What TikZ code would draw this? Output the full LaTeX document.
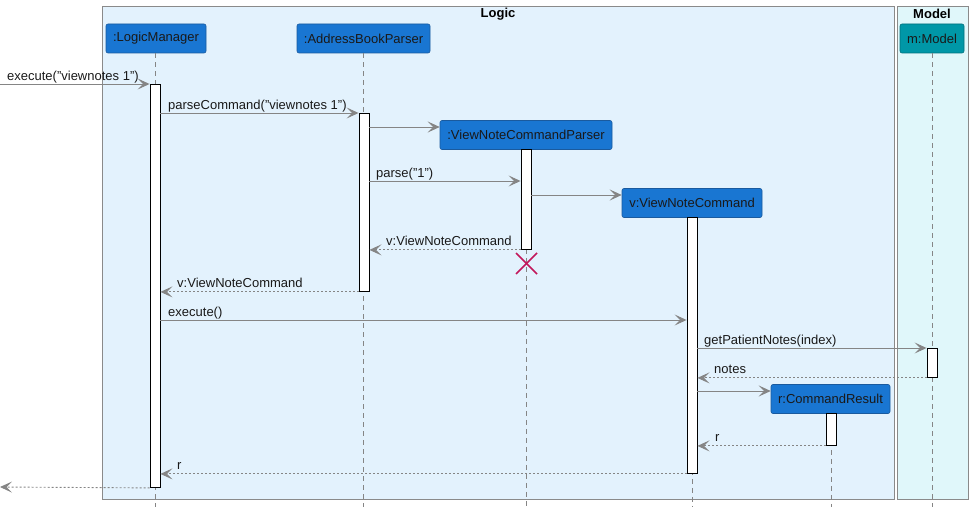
\documentclass[tikz,border=0pt]{standalone}
\usepackage{fontspec}
\setmainfont{Liberation Sans}
\usetikzlibrary{arrows.meta}
\definecolor{objblue}{HTML}{1976D2}
\definecolor{objedge}{HTML}{1A5A9E}
\definecolor{modelteal}{HTML}{0097A7}
\definecolor{modeledge}{HTML}{00707C}
\definecolor{logicbg}{HTML}{E3F2FD}
\definecolor{modelbg}{HTML}{E0F7FA}
\definecolor{grpline}{HTML}{8A8A8A}
\definecolor{msgline}{HTML}{858585}
\definecolor{killred}{HTML}{C2185B}
\begin{document}
\begin{tikzpicture}[x=1pt,y=-1pt,
  font=\fontsize{13pt}{15pt}\selectfont,
  grp/.style={draw=grpline, line width=0.9pt, anchor=north west, inner sep=0pt},
  grptitle/.style={font=\fontsize{13pt}{15pt}\selectfont\bfseries, inner sep=0pt},
  part/.style={draw=objedge, fill=objblue, rounded corners=2pt, minimum height=29pt, inner sep=0pt, text=black!90, line width=0.6pt},
  lifeline/.style={draw=msgline, dash pattern=on 5pt off 4pt, line width=0.8pt},
  actbox/.style={draw=black, fill=white, line width=0.9pt, minimum width=10pt, inner sep=0pt, anchor=north},
  msg/.style={draw=msgline, line width=0.9pt, -{Stealth[length=12pt,width=11pt,inset=5.5pt]}},
  ret/.style={msg, dash pattern=on 2pt off 2pt},
  lbl/.style={anchor=base west, inner sep=0pt, text=black!90},
  kill/.style={draw=killred, line width=1.6pt}
]
\useasboundingbox (0,0) rectangle (973,511);
% groups
\node[grp, fill=logicbg, minimum width=792pt, minimum height=493pt] (logic) at (102,6) {};
\node[grp, fill=modelbg, minimum width=71pt, minimum height=493pt] (model) at (897,6) {};
\node[grptitle] (logict) at (498,14) {Logic};
\node[grptitle] (modelt) at (932,14) {Model};
% participants
\node[part, minimum width=100pt] (lm) at (156,38.5) {:LogicManager};
\node[part, minimum width=133pt] (abp) at (363.5,38.5) {:AddressBookParser};
\node[part, minimum width=172pt] (vncp) at (526,135) {:ViewNoteCommandParser};
\node[part, minimum width=140pt] (vnc) at (692,203) {v:ViewNoteCommand};
\node[part, minimum width=119pt] (cr) at (830.5,399) {r:CommandResult};
\node[part, fill=modelteal, draw=modeledge, minimum width=64pt] (mm) at (932,38.5) {m:Model};
% lifeline ends
\coordinate (lmE) at (155,507);
\coordinate (abpE) at (363,507);
\coordinate (vncpE) at (526,507);
\coordinate (vncE) at (692,507);
\coordinate (crE) at (831,507);
\coordinate (mmE) at (932,507);
\draw[lifeline] (lm.south -| lmE) -- (lmE);
\draw[lifeline] (abp.south -| abpE) -- (abpE);
\draw[lifeline] (vncp.south -| vncpE) -- (vncpE);
\draw[lifeline] (vnc.south -| vncE) -- (vncE);
\draw[lifeline] (cr.south -| crE) -- (crE);
\draw[lifeline] (mm.south -| mmE) -- (mmE);
% activations
\node[actbox, minimum height=403pt] (alm) at (155,84) {};
\node[actbox, minimum height=178pt] (aabp) at (364,113) {};
\node[actbox, minimum height=100pt] (avncp) at (526,149) {};
\node[actbox, minimum height=256pt] (avnc) at (692,217) {};
\node[actbox, minimum height=29pt] (amm) at (932,348) {};
\node[actbox, minimum height=32pt] (acr) at (831,413) {};
% kill mark
\coordinate (k1) at (516,253);
\coordinate (k2) at (537,274);
\coordinate (k3) at (537,253);
\coordinate (k4) at (516,274);
\draw[kill] (k1) -- (k2);
\draw[kill] (k3) -- (k4);
% message endpoints
\coordinate (m1s) at (0,84);
\coordinate (m14e) at (0,487);
\coordinate (c1) at (0,127);
\coordinate (c2) at (0,195);
\coordinate (c3) at (0,391);
% messages
\draw[msg] (m1s) -- (m1s -| alm.west);
\node[lbl] (l1) at (7,80) {execute("viewnotes 1")};
\draw[msg] (alm.east |- aabp.north) -- (aabp.west |- aabp.north);
\node[lbl] (l2) at (168,109) {parseCommand("viewnotes 1")};
\draw[msg] (aabp.east |- c1) -- (vncp.west |- c1);
\draw[msg] (aabp.east |- 0,181) -- (avncp.west |- 0,181);
\node[lbl] (l3) at (376,177) {parse("1")};
\draw[msg] (avncp.east |- c2) -- (vnc.west |- c2);
\draw[ret] (avncp.west |- avncp.south) -- (aabp.east |- avncp.south);
\node[lbl] (l4) at (386,245) {v:ViewNoteCommand};
\draw[ret] (aabp.west |- aabp.south) -- (alm.east |- aabp.south);
\node[lbl] (l5) at (177,287) {v:ViewNoteCommand};
\draw[msg] (alm.east |- 0,320) -- (avnc.west |- 0,320);
\node[lbl] (l6) at (168,316) {execute()};
\draw[msg] (avnc.east |- amm.north) -- (amm.west |- amm.north);
\node[lbl] (l7) at (704,344) {getPatientNotes(index)};
\draw[ret] (amm.west |- amm.south) -- (avnc.east |- amm.south);
\node[lbl] (l8) at (714,373) {notes};
\draw[msg] (avnc.east |- c3) -- (cr.west |- c3);
\draw[ret] (acr.west |- acr.south) -- (avnc.east |- acr.south);
\node[lbl] (l9) at (715,441) {r};
\draw[ret] (avnc.west |- avnc.south) -- (alm.east |- avnc.south);
\node[lbl] (l10) at (177,469) {r};
\draw[ret] (alm.west |- alm.south) -- (m14e);
\end{tikzpicture}
\end{document}
